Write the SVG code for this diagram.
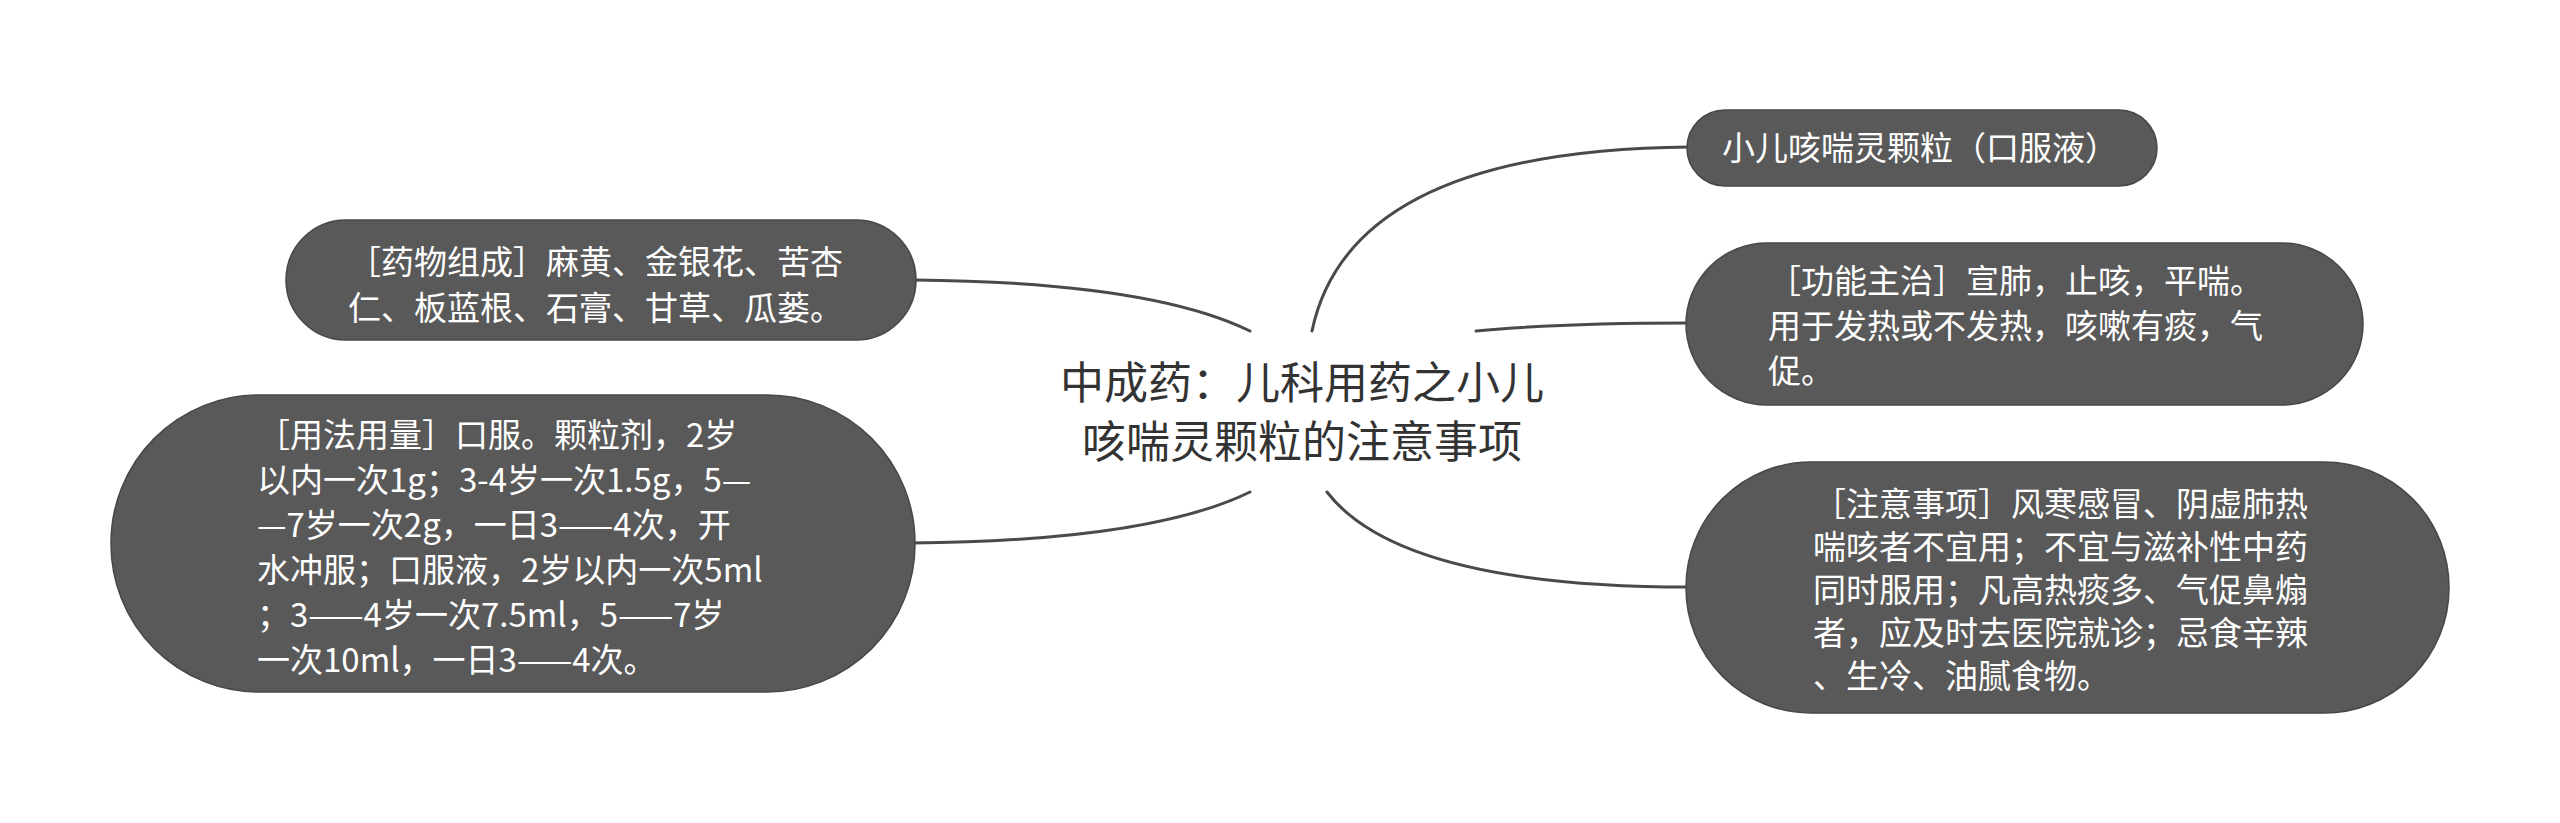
<svg xmlns="http://www.w3.org/2000/svg" width="2560" height="823" viewBox="0 0 2560 823">
<style>
.bg{fill:#ffffff}
.node rect{fill:#595959;stroke:#474747;stroke-width:1.5}
.node text{fill:#ffffff;font-family:"Noto Sans CJK SC","Microsoft YaHei",sans-serif;font-size:33px}
.root text{fill:#333333;font-family:"Noto Sans CJK SC","Microsoft YaHei",sans-serif;font-size:44px}
.links path{fill:none;stroke:#4a4a4a;stroke-width:3;stroke-linecap:round}
</style>
<rect class="bg" x="0" y="0" width="2560" height="823"/>
<g id="connectors" class="links">
<path d="M1312,331 Q1350,150 1690,147"/>
<path d="M1476,331 Q1560,323 1690,323"/>
<path d="M1327,492 Q1400,587 1690,587"/>
<path d="M1250,331 Q1150,282 914,280"/>
<path d="M1250,492 Q1150,541 912,543"/>
</g>
<g id="root" class="root">
<text x="1302" y="399" text-anchor="middle">中成药：儿科用药之小儿</text>
<text x="1302" y="458" text-anchor="middle">咳喘灵颗粒的注意事项</text>
</g>
<g id="node-form" class="node">
<rect x="1687" y="110" width="470" height="76" rx="38"/>
<text x="1920" y="160" text-anchor="middle">小儿咳喘灵颗粒（口服液）</text>
</g>
<g id="node-function" class="node">
<rect x="1686" y="243" width="677" height="162" rx="81"/>
<text x="1768" y="293">［功能主治］宣肺，止咳，平喘。</text>
<text x="1768" y="338">用于发热或不发热，咳嗽有痰，气</text>
<text x="1768" y="383">促。</text>
</g>
<g id="node-notes" class="node">
<rect x="1686" y="462" width="763" height="251" rx="125"/>
<text x="1813" y="516">［注意事项］风寒感冒、阴虚肺热</text>
<text x="1813" y="559">喘咳者不宜用；不宜与滋补性中药</text>
<text x="1813" y="602">同时服用；凡高热痰多、气促鼻煽</text>
<text x="1813" y="645">者，应及时去医院就诊；忌食辛辣</text>
<text x="1813" y="688">、生冷、油腻食物。</text>
</g>
<g id="node-composition" class="node">
<rect x="286" y="220" width="630" height="120" rx="60"/>
<text x="348" y="274">［药物组成］麻黄、金银花、苦杏</text>
<text x="348" y="320">仁、板蓝根、石膏、甘草、瓜蒌。</text>
</g>
<g id="node-usage" class="node">
<rect x="111" y="395" width="804" height="297" rx="148"/>
<text x="257" y="447">［用法用量］口服。颗粒剂，2岁</text>
<text x="257" y="492">以内一次1g；3-4岁一次1.5g，5—</text>
<text x="257" y="537">—7岁一次2g，一日3——4次，开</text>
<text x="257" y="582">水冲服；口服液，2岁以内一次5ml</text>
<text x="257" y="627">；3——4岁一次7.5ml，5——7岁</text>
<text x="257" y="672">一次10ml，一日3——4次。</text>
</g>
</svg>
